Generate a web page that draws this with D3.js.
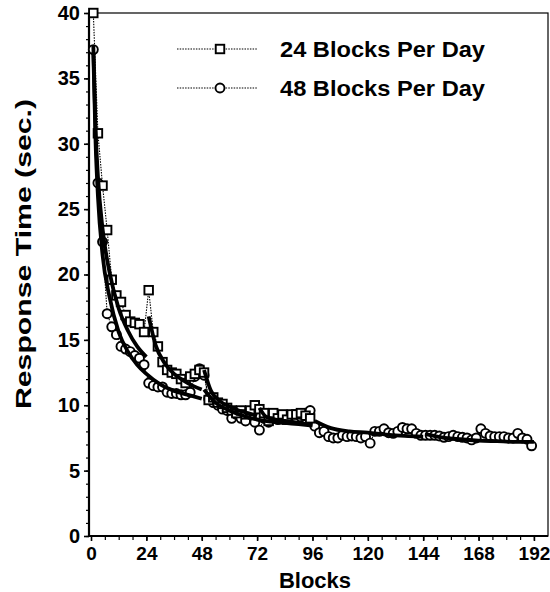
<!DOCTYPE html>
<html>
<head>
<meta charset="utf-8">
<script src="https://cdn.jsdelivr.net/npm/d3@7"></script>
<style>
  html, body { margin: 0; padding: 0; background: #fff; }
  svg { display: block; }
  text { font-family: "Liberation Sans", Arial, Helvetica, sans-serif; font-weight: bold; fill: #000; }
</style>
</head>
<body>
<svg id="chart" width="550" height="592"></svg>
<script>
// Mean response time per pair of blocks, two practice schedules
const blocks24 = [1,3,5,7,9,11,13,15,17,19,21,23,25,27,29,31,33,35,37,39,41,43,45,47,
                  49,51,53,55,57,59,61,63,65,67,69,71,73,75,77,79,81,83,85,87,89,91,93,95];
const rt24 = [40, 30.8, 26.8, 23.4, 19.6, 18.4, 17.9, 16.9, 16.4, 16.3, 16.2, 15.6,
              18.8, 15.6, 14.5, 13.3, 12.7, 12.5, 12.4, 12.0, 11.7, 12.2, 12.4, 12.7,
              12.5, 10.4, 10.6, 10.2, 10.1, 9.8, 9.6, 9.4, 9.6, 9.3, 9.6, 10.0,
              9.7, 9.4, 8.8, 9.4, 9.0, 9.3, 8.9, 9.3, 9.3, 9.4, 9.2, 9.0];

const blocks48 = [1,3,5,7,9,11,13,15,17,19,21,23,25,27,29,31,33,35,37,39,41,43,45,47,
                  49,51,53,55,57,59,61,63,65,67,69,71,73,75,77,79,81,83,85,87,89,91,93,95,
                  97,99,101,103,105,107,109,111,113,115,117,119,121,123,125,127,129,131,133,135,137,139,141,143,
                  145,147,149,151,153,155,157,159,161,163,165,167,169,171,173,175,177,179,181,183,185,187,189,191];
const rt48 = [37.2, 27.0, 22.5, 17.0, 16.0, 15.4, 14.5, 14.3, 14.1, 13.8, 13.6, 13.1,
              11.7, 11.5, 11.4, 11.4, 11.0, 10.9, 10.9, 10.8, 10.8, 11.0, 12.2, 12.8,
              12.3, 10.5, 10.2, 10.0, 9.7, 9.6, 9.0, 9.3, 9.0, 8.8, 9.3, 8.7,
              8.1, 9.0, 8.7, 9.0, 8.9, 9.0, 8.9, 9.1, 9.0, 9.1, 9.4, 9.6,
              8.4, 7.9, 8.0, 7.6, 7.5, 7.5, 7.7, 7.6, 7.65, 7.6, 7.5, 7.6,
              7.1, 8.0, 8.0, 8.2, 7.9, 7.85, 8.0, 8.3, 8.2, 8.2, 7.85, 7.7,
              7.7, 7.7, 7.7, 7.65, 7.55, 7.6, 7.7, 7.6, 7.55, 7.5, 7.35, 7.5,
              8.2, 7.85, 7.65, 7.6, 7.6, 7.6, 7.5, 7.5, 7.85, 7.5, 7.4, 6.9];

// Fitted practice curves, one piece per day of training
const fit24Day    = [1,1,1,1,1,1,1,1,1, 2,2,2,2,2,2,2, 3,3,3,3,3,3,3, 4,4,4,4,4,4,4];
const fit24Blocks = [1,2,3,5,8,12,16,20,24, 25,28,32,36,40,44,48, 49,52,56,60,64,68,72, 73,76,80,84,88,92,96];
const fit24Rt     = [37.5,31,27.5,23.5,20.2,17.4,15.7,14.5,13.7, 16.8,14.6,13.2,12.4,11.9,11.5,11.2,
                     12.7,11.1,10.3,9.9,9.6,9.4,9.2, 9.8,9.1,8.9,8.8,8.7,8.6,8.5];

const fit48Day    = [1,1,1,1,1,1,1,1,1,1,1,1,1, 2,2,2,2,2,2,2,2,2, 3,3,3,3,3,3,3, 4,4,4,4,4,4,4];
const fit48Blocks = [1,2,3,5,8,12,16,20,24,30,36,42,48, 49,54,60,66,72,78,84,90,96,
                     97,104,112,120,128,136,144, 145,152,160,168,176,184,192];
const fit48Rt     = [37,30,26,21.5,18.3,15.6,14.1,13.1,12.4,11.6,11.1,10.8,10.5,
                     11.2,10.2,9.6,9.2,8.9,8.75,8.65,8.55,8.45,
                     8.8,8.25,8.0,7.9,7.75,7.65,7.6, 7.8,7.55,7.4,7.3,7.25,7.2,7.2];

const yTicks = [0,5,10,15,20,25,30,35,40];
const xTicks = [0,24,48,72,96,120,144,168,192];
const seriesNames = ["24 Blocks Per Day", "48 Blocks Per Day"];

const svg = d3.select("#chart");
const plotLeft = 89, plotRight = 548, plotTop = 13, plotBottom = 536;

const x = d3.scaleLinear().domain([-0.87, 198.1]).range([plotLeft, plotRight]);
const y = d3.scaleLinear().domain([0, 40]).range([plotBottom, plotTop]);

svg.append("rect").attr("width", 550).attr("height", 592).attr("fill", "#fff");

// Frame
svg.append("rect")
  .attr("x", plotLeft).attr("y", plotTop)
  .attr("width", plotRight - plotLeft).attr("height", plotBottom - plotTop)
  .attr("fill", "none").attr("stroke", "#000").attr("stroke-width", 1.2);
svg.append("line").attr("x1", plotLeft).attr("x2", plotLeft).attr("y1", plotTop).attr("y2", plotBottom)
  .attr("stroke", "#000").attr("stroke-width", 2.2);
svg.append("line").attr("x1", plotLeft).attr("x2", plotRight).attr("y1", plotBottom).attr("y2", plotBottom)
  .attr("stroke", "#000").attr("stroke-width", 2.2);

// Y axis: labelled ticks every 5 s, minor ticks every second
const yAxis = d3.axisLeft(y).tickValues(yTicks).tickSize(5).tickPadding(4).tickFormat(d3.format("d"));
const gy = svg.append("g").attr("transform", `translate(${plotLeft},0)`).call(yAxis);
gy.select(".domain").remove();
gy.selectAll(".tick line").attr("stroke-width", 1.6);
gy.selectAll(".tick text").attr("font-size", 20).attr("font-family", null).attr("fill", "#000");
svg.append("g").attr("transform", `translate(${plotLeft},0)`)
  .call(d3.axisLeft(y).tickValues(d3.range(0, 41, 1)).tickSize(3).tickFormat(""))
  .call(g => g.select(".domain").remove())
  .selectAll(".tick line").attr("stroke-width", 1.2);

// X axis: labelled ticks every 24 blocks, minor ticks every 6
const xAxis = d3.axisBottom(x).tickValues(xTicks).tickSize(5).tickPadding(6).tickFormat(d3.format("d"));
const gx = svg.append("g").attr("transform", `translate(0,${plotBottom})`).call(xAxis);
gx.select(".domain").remove();
gx.selectAll(".tick line").attr("stroke-width", 1.6);
gx.selectAll(".tick text").attr("font-size", 19).attr("font-family", null).attr("fill", "#000");
svg.append("g").attr("transform", `translate(0,${plotBottom})`)
  .call(d3.axisBottom(x).tickValues(d3.range(6, 193, 6)).tickSize(4).tickFormat(""))
  .call(g => g.select(".domain").remove())
  .selectAll(".tick line").attr("stroke-width", 1.2);

// Axis titles
svg.append("text")
  .attr("transform", "translate(31,254) rotate(-90)")
  .attr("text-anchor", "middle")
  .attr("font-size", 22)
  .attr("textLength", 310).attr("lengthAdjust", "spacingAndGlyphs")
  .text("Response Time (sec.)");
svg.append("text")
  .attr("x", 315).attr("y", 588)
  .attr("text-anchor", "middle")
  .attr("font-size", 22)
  .text("Blocks");

const plot = svg.append("g");

// Observed means joined by fine dotted lines
const line = d3.line().x(d => x(d[0])).y(d => y(d[1]));
const pts48 = blocks48.map((b, i) => [b, rt48[i]]);
const pts24 = blocks24.map((b, i) => [b, rt24[i]]);

plot.append("path").datum(pts48).attr("d", line)
  .attr("fill", "none").attr("stroke", "#000").attr("stroke-width", 1.1)
  .attr("stroke-dasharray", "1.5,1.2");
plot.append("path").datum(pts24).attr("d", line)
  .attr("fill", "none").attr("stroke", "#000").attr("stroke-width", 1.1)
  .attr("stroke-dasharray", "1.5,1.2");

const cr = 4.5;
plot.selectAll("circle.obs").data(pts48).join("circle")
  .attr("class", "obs")
  .attr("cx", d => x(d[0])).attr("cy", d => y(d[1])).attr("r", cr)
  .attr("fill", "#fff").attr("stroke", "#000").attr("stroke-width", 1.9);

const sq = 8.5;
plot.selectAll("rect.obs").data(pts24).join("rect")
  .attr("class", "obs")
  .attr("x", d => x(d[0]) - sq / 2).attr("y", d => y(d[1]) - sq / 2)
  .attr("width", sq).attr("height", sq)
  .attr("fill", "#fff").attr("stroke", "#000").attr("stroke-width", 1.9);

// Fitted curves, drawn day by day
const fitLine = d3.line().x(d => x(d.b)).y(d => y(d.v)).curve(d3.curveMonotoneX);
function drawFit(days, blocks, values) {
  const rows = blocks.map((b, i) => ({ day: days[i], b, v: values[i] }));
  const byDay = d3.groups(rows, d => d.day);
  plot.selectAll(null).data(byDay).join("path")
    .attr("d", d => fitLine(d[1]))
    .attr("fill", "none").attr("stroke", "#000").attr("stroke-width", 3.8)
    .attr("stroke-linejoin", "round");
}
drawFit(fit48Day, fit48Blocks, fit48Rt);
drawFit(fit24Day, fit24Blocks, fit24Rt);

// Legend
const legend = svg.append("g");
const legendRows = [
  { name: seriesNames[0], y: 49, shape: "square" },
  { name: seriesNames[1], y: 88, shape: "circle" }
];
legendRows.forEach(r => {
  legend.append("line").attr("x1", 177).attr("x2", 257).attr("y1", r.y).attr("y2", r.y)
    .attr("stroke", "#000").attr("stroke-width", 1.2).attr("stroke-dasharray", "1.5,1.2");
  if (r.shape === "square") {
    legend.append("rect").attr("x", 220 - sq / 2).attr("y", r.y - sq / 2)
      .attr("width", sq).attr("height", sq)
      .attr("fill", "#fff").attr("stroke", "#000").attr("stroke-width", 1.9);
  } else {
    legend.append("circle").attr("cx", 220).attr("cy", r.y).attr("r", cr)
      .attr("fill", "#fff").attr("stroke", "#000").attr("stroke-width", 1.9);
  }
  legend.append("text").attr("x", 280).attr("y", r.y + 8)
    .attr("font-size", 22)
    .attr("textLength", 205).attr("lengthAdjust", "spacingAndGlyphs")
    .text(r.name);
});
</script>
</body>
</html>
